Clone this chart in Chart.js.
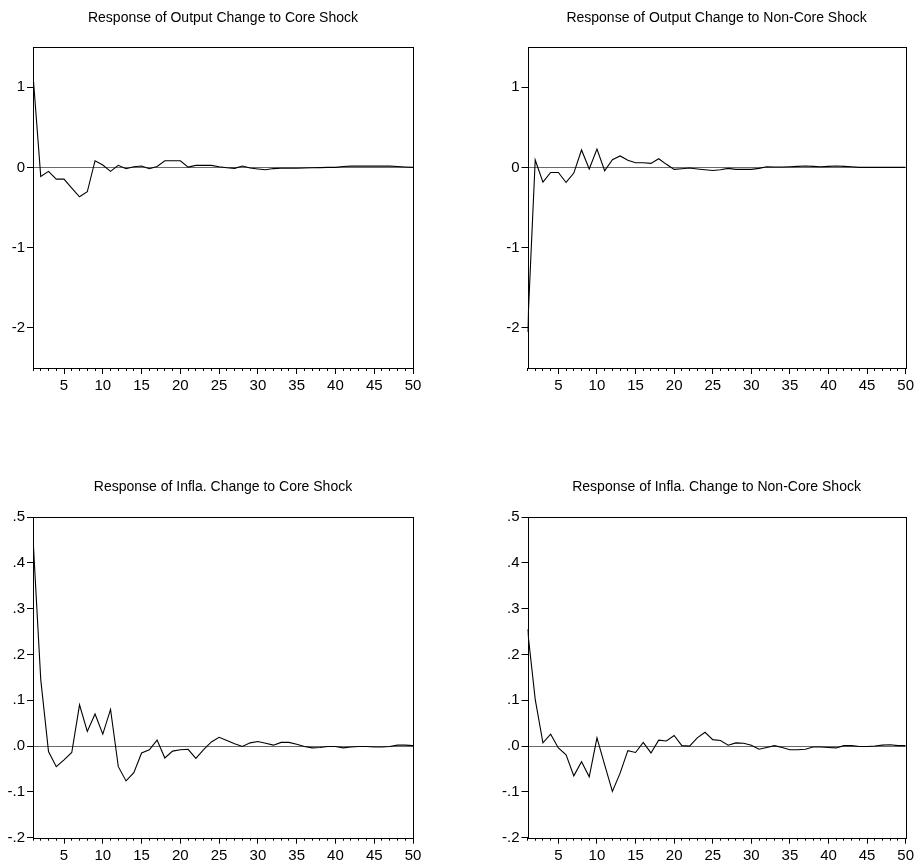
<!DOCTYPE html>
<html>
<head>
<meta charset="utf-8">
<script src="https://cdn.jsdelivr.net/npm/chart.js@4.4.1/dist/chart.umd.min.js"></script>
<style>
body{margin:0;background:#fff;}
#wrap{position:relative;width:917px;height:865px;background:#fff;overflow:hidden;}
canvas{position:absolute;}
</style>
</head>
<body>
<div id="wrap">
    <canvas id="c1" width="450" height="430" style="left:0px;top:0px"></canvas>
    <canvas id="c2" width="457" height="430" style="left:460px;top:0px"></canvas>
    <canvas id="c3" width="450" height="435" style="left:0px;top:430px"></canvas>
    <canvas id="c4" width="457" height="435" style="left:460px;top:430px"></canvas>
</div>
<script>
// impulse responses, periods 1..50
const periods = [];
for (let i = 1; i <= 50; i++) periods.push(i);

const outputCore = [
    1.158, -0.113, -0.05, -0.146, -0.146, -0.258, -0.367, -0.304, 0.083, 0.029,
    -0.05, 0.025, -0.017, 0.008, 0.017, -0.017, 0.012, 0.083, 0.083, 0.083,
    0.004, 0.025, 0.025, 0.025, 0.008, -0.004, -0.012, 0.017, -0.008, -0.02,
    -0.03, -0.015, -0.01, -0.01, -0.01, -0.008, -0.005, -0.003, 0, 0,
    0.01, 0.015, 0.015, 0.015, 0.015, 0.015, 0.015, 0.01, 0.004, 0
];
const outputNonCore = [
    -2.05, 0.092, -0.183, -0.063, -0.063, -0.188, -0.071, 0.217, -0.021, 0.229,
    -0.042, 0.096, 0.142, 0.088, 0.058, 0.058, 0.05, 0.108, 0.038, -0.025,
    -0.017, -0.008, -0.02, -0.03, -0.038, -0.03, -0.012, -0.025, -0.025, -0.025,
    -0.012, 0.008, 0.004, 0.004, 0.008, 0.012, 0.017, 0.012, 0.008, 0.012,
    0.017, 0.012, 0.008, 0, 0, 0, 0, 0, 0, 0
];
const inflaCore = [
    0.454, 0.145, -0.012, -0.045, -0.030, -0.014, 0.090, 0.032, 0.070, 0.026,
    0.080, -0.045, -0.076, -0.058, -0.015, -0.008, 0.013, -0.026, -0.011, -0.008,
    -0.007, -0.027, -0.008, 0.009, 0.019, 0.012, 0.005, -0.001, 0.007, 0.010,
    0.006, 0.002, 0.008, 0.008, 0.004, -0.001, -0.004, -0.003, -0.001, -0.001,
    -0.004, -0.002, -0.001, -0.001, -0.002, -0.002, -0.001, 0.002, 0.002, 0.001
];
const inflaNonCore = [
    0.255, 0.102, 0.007, 0.026, -0.004, -0.019, -0.065, -0.034, -0.067, 0.018,
    -0.041, -0.099, -0.059, -0.010, -0.014, 0.008, -0.015, 0.013, 0.011, 0.023,
    0.001, 0.000, 0.018, 0.030, 0.014, 0.012, 0.002, 0.007, 0.006, 0.002,
    -0.007, -0.003, 0.001, -0.003, -0.008, -0.008, -0.007, -0.002, -0.002, -0.003,
    -0.004, 0.001, 0.001, -0.001, -0.001, 0, 0.002, 0.003, 0.001, 0.001
];

const xLabelTicks = [5, 10, 15, 20, 25, 30, 35, 40, 45, 50];
const yTicksOutput = [-2, -1, 0, 1];
const yTicksInfla = [-0.2, -0.1, 0, 0.1, 0.2, 0.3, 0.4, 0.5];

const FONT = '"Liberation Sans", Arial, sans-serif';

// box round the plot area
const framePlugin = {
    id: 'frame',
    afterDraw(chart){
        const a = chart.chartArea;
        const ctx = chart.ctx;
        ctx.save();
        ctx.strokeStyle = '#000';
        ctx.lineWidth = 1;
        ctx.strokeRect(Math.round(a.left) + 0.5, Math.round(a.top) + 0.5,
            Math.round(a.right - a.left), Math.round(a.bottom - a.top));
        ctx.restore();
    }
};

function fmtInfla(v){
    let s = Math.abs(v).toFixed(1).replace(/^0/, '');
    return v < -1e-9 ? '-' + s : s;
}

function fmtOutput(v){
    return String(Math.round(v));
}

function makePanel(id, title, values, yMin, yMax, yTicks, fmt, box){
    const ctx = document.getElementById(id).getContext('2d');
    return new Chart(ctx, {
        type: 'line',
        data: {
            datasets: [{
                data: values.map((v, i) => ({x: periods[i], y: v})),
                borderColor: '#000',
                borderWidth: 1.1,
                pointRadius: 0,
                tension: 0,
                fill: false
            }]
        },
        plugins: [framePlugin],
        options: {
            responsive: false,
            animation: false,
            devicePixelRatio: 1,
            layout: {padding: {left: 0, right: box.padRight, top: 0, bottom: 0}},
            plugins: {
                legend: {display: false},
                tooltip: {enabled: false},
                title: {
                    display: true,
                    text: title,
                    fullSize: false,
                    color: '#000',
                    font: {family: FONT, size: 14, weight: 'normal', lineHeight: 1.2},
                    padding: {top: box.titleTop, bottom: box.titleBottom}
                }
            },
            scales: {
                y: {
                    min: yMin,
                    max: yMax,
                    afterBuildTicks: s => { s.ticks = yTicks.map(v => ({value: v})); },
                    afterFit: s => { s.width = box.yWidth; },
                    border: {display: false},
                    grid: {
                        color: c => (c.tick && Math.abs(c.tick.value) < 1e-9) ? '#6a6a6a' : 'rgba(0,0,0,0)',
                        tickColor: '#000',
                        tickLength: 6,
                        lineWidth: 1
                    },
                    ticks: {
                        color: '#000',
                        padding: 2,
                        font: {family: FONT, size: 15},
                        callback: v => fmt(v)
                    }
                },
                x: {
                    type: 'linear',
                    position: 'bottom',
                    weight: 1,
                    min: 1,
                    max: 50,
                    afterBuildTicks: s => { s.ticks = periods.map(v => ({value: v})); },
                    afterFit: s => { s.height = 0; },
                    border: {display: false},
                    grid: {drawOnChartArea: false, tickLength: 3, tickColor: '#000'},
                    ticks: {display: false}
                },
                x2: {
                    type: 'linear',
                    position: 'bottom',
                    weight: 2,
                    min: 1,
                    max: 50,
                    afterBuildTicks: s => { s.ticks = xLabelTicks.map(v => ({value: v})); },
                    afterFit: s => { s.height = box.xHeight; },
                    border: {display: false},
                    grid: {drawOnChartArea: false, tickLength: 6, tickColor: '#000'},
                    ticks: {
                        color: '#000',
                        padding: 3,
                        maxRotation: 0,
                        font: {family: FONT, size: 15}
                    }
                }
            }
        }
    });
}

document.addEventListener("DOMContentLoaded", function(){
    makePanel('c1', 'Response of Output Change to Core Shock', outputCore, -2.5, 1.5,
        yTicksOutput, fmtOutput, {yWidth: 33, padRight: 37, titleTop: 10.1, titleBottom: 20.1, xHeight: 62});
    makePanel('c2', 'Response of Output Change to Non-Core Shock', outputNonCore, -2.5, 1.5,
        yTicksOutput, fmtOutput, {yWidth: 67.5, padRight: 9, titleTop: 10.1, titleBottom: 20.1, xHeight: 62});
    makePanel('c3', 'Response of Infla. Change to Core Shock', inflaCore, -0.2, 0.5,
        yTicksInfla, fmtInfla, {yWidth: 33, padRight: 37, titleTop: 48.6, titleBottom: 21.6, xHeight: 27.3});
    makePanel('c4', 'Response of Infla. Change to Non-Core Shock', inflaNonCore, -0.2, 0.5,
        yTicksInfla, fmtInfla, {yWidth: 67.5, padRight: 9, titleTop: 48.6, titleBottom: 21.6, xHeight: 27.3});
});
</script>
</body>
</html>
